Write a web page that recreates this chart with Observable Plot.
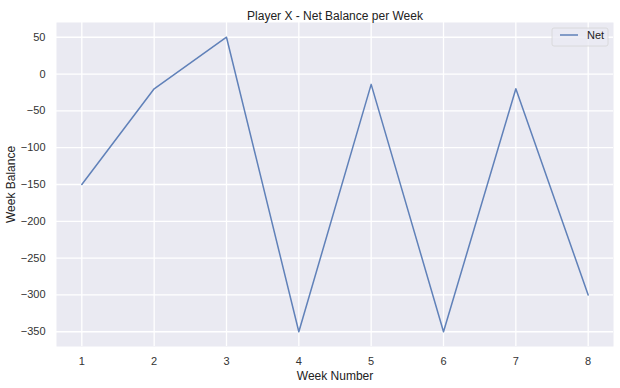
<!DOCTYPE html>
<html><head><meta charset="utf-8">
<script src="https://cdn.jsdelivr.net/npm/d3@7"></script>
<script src="https://cdn.jsdelivr.net/npm/@observablehq/plot@0.6"></script>
<style>body{margin:0;background:#fff;} svg{display:block;}</style>
</head><body><div id="chart"></div>
<script>
const weeks = [1, 2, 3, 4, 5, 6, 7, 8];
const net = [-150, -20, 50, -350, -14, -350, -20, -300];
const yTicks = [50, 0, -50, -100, -150, -200, -250, -300, -350];
const title = "Player X - Net Balance per Week";
const seriesName = "Net";

const data = weeks.map((w, i) => ({week: w, net: net[i]}));
const lineColor = "#4C72B0";
const font = "'Liberation Sans', Arial, sans-serif";

const chart = Plot.plot({
  width: 620, height: 388,
  marginLeft: 56, marginRight: 7, marginTop: 22, marginBottom: 42,
  style: {fontFamily: font, fontSize: "11px", color: "#333", background: "#fff"},
  x: {domain: [0.65, 8.35], ticks: weeks, tickSize: 0, tickPadding: 11, tickFormat: d => String(d), label: "Week Number", labelAnchor: "center", labelArrow: "none", labelOffset: 33},
  y: {domain: [-370, 70], ticks: yTicks, tickSize: 0, tickPadding: 11, tickFormat: d => d < 0 ? "\u2212" + Math.abs(d) : String(d), label: "Week Balance", labelAnchor: "center", labelArrow: "none", labelOffset: 50},
  marks: [
    Plot.frame({fill: "#EAEAF2", stroke: null}),
    Plot.gridX(weeks, {stroke: "#fff", strokeOpacity: 1, strokeWidth: 1.3}),
    Plot.gridY(yTicks, {stroke: "#fff", strokeOpacity: 1, strokeWidth: 1.3}),
    Plot.line(data, {x: "week", y: "net", stroke: lineColor, strokeOpacity: 0.88, strokeWidth: 1.5}),
    Plot.text([title], {frameAnchor: "top", dy: -11, fontSize: 12, fill: "#222", text: d => d})
  ]
});

// legend
const svg = d3.select(chart);
svg.selectAll("[aria-label='x-axis label'] text, [aria-label='y-axis label'] text").attr("font-size", 12).attr("fill", "#222");
const lg = svg.append("g").attr("transform", "translate(552,28)").attr("text-anchor", "start");
lg.append("rect").attr("width", 56).attr("height", 18).attr("rx", 2)
  .attr("fill", "#EAEAF2").attr("fill-opacity", 0.8).attr("stroke", "#d5d5d5").attr("stroke-width", 0.8);
lg.append("line").attr("x1", 8).attr("x2", 26).attr("y1", 7).attr("y2", 7)
  .attr("stroke", lineColor).attr("stroke-opacity", 0.88).attr("stroke-width", 1.5);
lg.append("text").attr("x", 35).attr("y", 11).attr("font-size", 11).attr("fill", "#222")
  .attr("text-anchor", "start").attr("font-family", font).text(seriesName);

document.getElementById("chart").appendChild(chart);
</script>
</body></html>
